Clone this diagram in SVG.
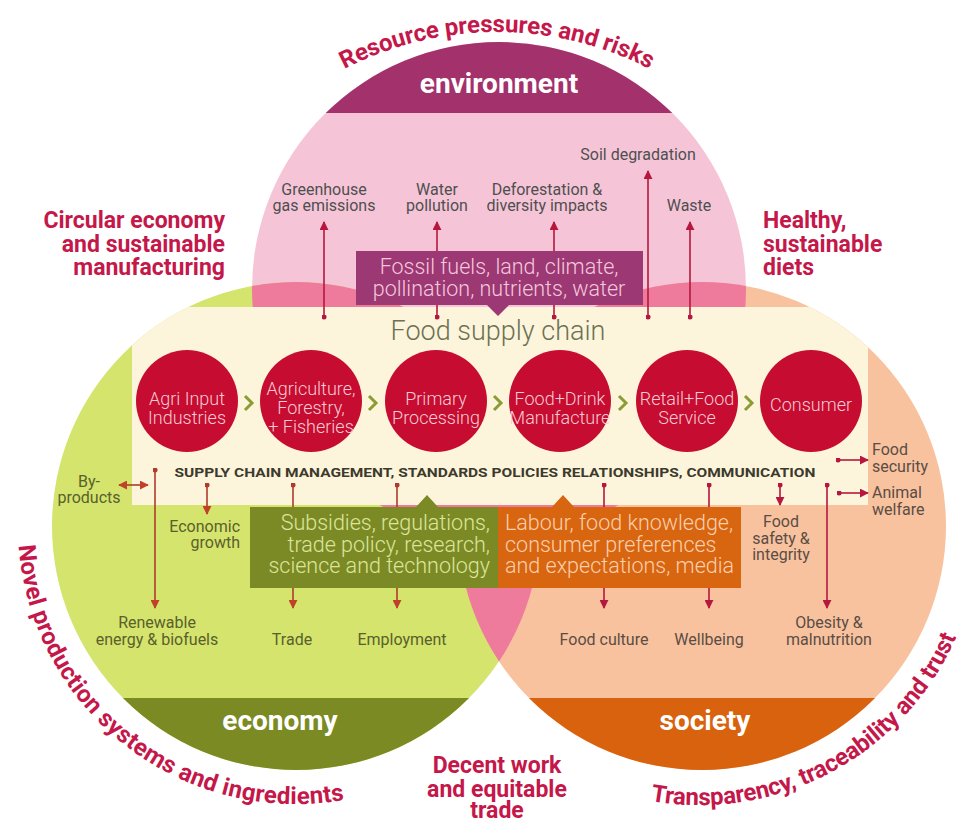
<svg xmlns="http://www.w3.org/2000/svg" width="964" height="827" viewBox="0 0 964 827">
<defs>
<style>
text{font-family:Roboto,"Liberation Sans",sans-serif;}
.hd{font-size:23px;font-weight:700;fill:#c4174a;}
.cv{font-size:24px;font-weight:700;fill:#c4174a;}
.band{font-size:28px;font-weight:700;fill:#ffffff;text-anchor:middle;}
.ct{font-size:18px;font-weight:300;fill:#f8cbd4;text-anchor:middle;}
.lbl{font-size:16px;text-anchor:middle;}
.le{fill:#4f4f4f;}
.lg{fill:#59602c;}
.ls{fill:#5b4d44;}
.bx{font-size:21.5px;font-weight:300;}
.ar{fill:none;stroke:#b5173e;stroke-width:1.6;}
.ag{fill:none;stroke:#b03a2c;stroke-width:1.6;}
.chev{fill:none;stroke:#8c9c34;stroke-width:3;}
</style>
<clipPath id="cEnv"><circle cx="499" cy="289" r="247"/></clipPath>
<clipPath id="cEco"><circle cx="296" cy="526" r="244"/></clipPath>
<clipPath id="cSoc"><circle cx="702" cy="526" r="244"/></clipPath>
<clipPath id="cAll"><circle cx="499" cy="289" r="247"/><circle cx="296" cy="526" r="244"/><circle cx="702" cy="526" r="244"/></clipPath>
<marker id="ahR" viewBox="0 0 10 10" refX="9" refY="5" markerWidth="9" markerHeight="9" markerUnits="userSpaceOnUse" orient="auto-start-reverse"><path d="M0,0 L10,5 L0,10 z" fill="#b5173e"/></marker>
<marker id="ahG" viewBox="0 0 10 10" refX="9" refY="5" markerWidth="9" markerHeight="9" markerUnits="userSpaceOnUse" orient="auto-start-reverse"><path d="M0,0 L10,5 L0,10 z" fill="#c0412a"/></marker>
<marker id="dotR" viewBox="0 0 10 10" refX="5" refY="5" markerWidth="5" markerHeight="5" markerUnits="userSpaceOnUse"><circle cx="5" cy="5" r="5" fill="#b5173e"/></marker>
<marker id="dotG" viewBox="0 0 10 10" refX="5" refY="5" markerWidth="5" markerHeight="5" markerUnits="userSpaceOnUse"><circle cx="5" cy="5" r="5" fill="#b03a2c"/></marker>
<path id="arcTop" d="M164,365 A333,333 0 0 1 830,365"/>
<path id="arcEco" d="M22.2,477.7 A278,278 0 0 0 509,704.7"/>
<path id="arcSoc" d="M606.2,789.1 A280,280 0 0 0 963,430.2"/>
</defs>

<g id="venn">
<circle cx="499" cy="289" r="247" fill="#f5c5d7"/>
<circle cx="296" cy="526" r="244" fill="#d5e46c"/>
<circle cx="702" cy="526" r="244" fill="#f8c29f"/>
<circle cx="296" cy="526" r="244" fill="#ee7b9c" clip-path="url(#cEnv)"/>
<circle cx="702" cy="526" r="244" fill="#ee7b9c" clip-path="url(#cEnv)"/>
<circle cx="702" cy="526" r="244" fill="#ee7b9c" clip-path="url(#cEco)"/>
<g clip-path="url(#cEnv)"><rect x="240" y="0" width="520" height="113" fill="#a3316c"/></g>
<g clip-path="url(#cEco)"><rect x="40" y="698" width="480" height="90" fill="#7b8a23"/></g>
<g clip-path="url(#cSoc)"><rect x="480" y="698" width="480" height="90" fill="#d8620e"/></g>
<g clip-path="url(#cAll)"><rect x="132" y="307" width="736" height="198" fill="#fcf5dc"/></g>
</g>

<g id="titles">
<text class="cv"><textPath href="#arcTop" startOffset="50%" text-anchor="middle" textLength="317" lengthAdjust="spacing">Resource pressures and risks</textPath></text>
<text class="cv"><textPath href="#arcEco" startOffset="68" textLength="466" lengthAdjust="spacing">Novel production systems and ingredients</textPath></text>
<text class="cv"><textPath href="#arcSoc" startOffset="46" textLength="374" lengthAdjust="spacing">Transparency, traceability and trust</textPath></text>
<text class="hd" text-anchor="end"><tspan x="225" y="228">Circular economy</tspan><tspan x="225" y="252">and sustainable</tspan><tspan x="225" y="275">manufacturing</tspan></text>
<text class="hd"><tspan x="763" y="228">Healthy,</tspan><tspan x="763" y="252">sustainable</tspan><tspan x="763" y="275">diets</tspan></text>
<text class="hd" text-anchor="middle"><tspan x="497" y="773">Decent work</tspan><tspan x="497" y="797">and equitable</tspan><tspan x="497" y="818">trade</tspan></text>
<text class="band" x="499" y="93">environment</text>
<text class="band" x="280" y="730">economy</text>
<text class="band" x="705" y="730">society</text>
</g>

<g id="connectors">
<line class="ar" x1="324" y1="317" x2="324" y2="222" marker-start="url(#dotR)" marker-end="url(#ahR)"/>
<line class="ar" x1="437" y1="317" x2="437" y2="222" marker-start="url(#dotR)" marker-end="url(#ahR)"/>
<line class="ar" x1="554" y1="317" x2="554" y2="222" marker-start="url(#dotR)" marker-end="url(#ahR)"/>
<line class="ar" x1="648" y1="317" x2="648" y2="171" marker-start="url(#dotR)" marker-end="url(#ahR)"/>
<line class="ar" x1="690" y1="317" x2="690" y2="222" marker-start="url(#dotR)" marker-end="url(#ahR)"/>
<line class="ag" x1="119" y1="485" x2="148" y2="485" marker-start="url(#ahG)" marker-end="url(#ahG)"/>
<line class="ag" x1="155" y1="470" x2="155" y2="608" marker-start="url(#dotG)" marker-end="url(#ahG)"/>
<line class="ag" x1="207" y1="485" x2="207" y2="514" marker-start="url(#dotG)" marker-end="url(#ahG)"/>
<line class="ag" x1="293" y1="485" x2="293" y2="608" marker-start="url(#dotG)" marker-end="url(#ahG)"/>
<line class="ag" x1="397" y1="485" x2="397" y2="608" marker-start="url(#dotG)" marker-end="url(#ahG)"/>
<line class="ar" x1="604" y1="485" x2="604" y2="608" marker-start="url(#dotR)" marker-end="url(#ahR)"/>
<line class="ar" x1="709" y1="485" x2="709" y2="608" marker-start="url(#dotR)" marker-end="url(#ahR)"/>
<line class="ar" x1="780" y1="485" x2="780" y2="505" marker-start="url(#dotR)" marker-end="url(#ahR)"/>
<line class="ar" x1="827" y1="485" x2="827" y2="608" marker-start="url(#dotR)" marker-end="url(#ahR)"/>
<line class="ar" x1="838" y1="460" x2="868" y2="460" marker-start="url(#dotR)" marker-end="url(#ahR)"/>
<line class="ar" x1="839" y1="493" x2="868" y2="493" marker-start="url(#dotR)" marker-end="url(#ahR)"/>
</g>

<g id="env-labels" class="lbl le">
<text x="324" y="195">Greenhouse</text><text x="324" y="211">gas emissions</text>
<text x="437" y="195">Water</text><text x="437" y="211">pollution</text>
<text x="547" y="195">Deforestation &amp;</text><text x="547" y="211">diversity impacts</text>
<text x="638" y="160">Soil degradation</text>
<text x="689" y="211">Waste</text>
</g>

<g id="resources-box">
<path d="M356,251 H643 V305 H509 L498,316 L487,305 H356 Z" fill="#9c3874"/>
<text class="bx" font-size="23.5" fill="#f4c8dc" text-anchor="middle"><tspan x="499" y="274">Fossil fuels, land, climate,</tspan><tspan x="499" y="296">pollination, nutrients, water</tspan></text>
</g>

<g id="supply-chain">
<text x="498" y="340" font-size="27" font-weight="300" fill="#6d7152" text-anchor="middle">Food supply chain</text>
<text x="495" y="477" font-size="13" font-weight="700" fill="#3c3a2c" text-anchor="middle" textLength="641" lengthAdjust="spacingAndGlyphs">SUPPLY CHAIN MANAGEMENT, STANDARDS POLICIES RELATIONSHIPS, COMMUNICATION</text>
</g>

<g id="n-agri-input"><circle cx="187" cy="401" r="51" fill="#c60c30"/><text class="ct"><tspan x="187" y="405">Agri Input</tspan><tspan x="187" y="424">Industries</tspan></text></g>
<g id="n-agriculture"><circle cx="311" cy="401" r="51" fill="#c60c30"/><text class="ct"><tspan x="311" y="395">Agriculture,</tspan><tspan x="311" y="414">Forestry,</tspan><tspan x="311" y="433">+ Fisheries</tspan></text></g>
<g id="n-primary"><circle cx="436" cy="401" r="51" fill="#c60c30"/><text class="ct"><tspan x="436" y="405">Primary</tspan><tspan x="436" y="424">Processing</tspan></text></g>
<g id="n-manufacture"><circle cx="560" cy="401" r="51" fill="#c60c30"/><text class="ct"><tspan x="560" y="405">Food+Drink</tspan><tspan x="560" y="424">Manufacture</tspan></text></g>
<g id="n-retail"><circle cx="687" cy="401" r="51" fill="#c60c30"/><text class="ct"><tspan x="687" y="405">Retail+Food</tspan><tspan x="687" y="424">Service</tspan></text></g>
<g id="n-consumer"><circle cx="811" cy="401" r="51" fill="#c60c30"/><text class="ct" x="811" y="411">Consumer</text></g>

<g id="chevrons">
<polyline class="chev" points="245,396 252,403 245,410"/>
<polyline class="chev" points="369,396 376,403 369,410"/>
<polyline class="chev" points="494,396 501,403 494,410"/>
<polyline class="chev" points="619,396 626,403 619,410"/>
<polyline class="chev" points="745,396 752,403 745,410"/>
</g>

<g id="policy-box">
<path d="M250,507 H416 L427,495 L438,507 H498 V588 H250 Z" fill="#7c8a26"/>
<text class="bx" fill="#dbe69b" text-anchor="end"><tspan x="490" y="530">Subsidies, regulations,</tspan><tspan x="490" y="552">trade policy, research,</tspan><tspan x="490" y="573">science and technology</tspan></text>
</g>

<g id="social-box">
<path d="M498,507 H552 L563,495 L574,507 H741 V588 H498 Z" fill="#d8650f"/>
<text class="bx" fill="#fbcfae"><tspan x="505" y="530">Labour, food knowledge,</tspan><tspan x="505" y="552">consumer preferences</tspan><tspan x="505" y="573">and expectations, media</tspan></text>
</g>

<g id="eco-labels" class="lbl lg">
<text x="89" y="487">By-</text><text x="89" y="503">products</text>
<text x="240" y="532" text-anchor="end">Economic</text><text x="240" y="548" text-anchor="end">growth</text>
<text x="157" y="628">Renewable</text><text x="157" y="645">energy &amp; biofuels</text>
<text x="292" y="645">Trade</text>
<text x="402" y="645">Employment</text>
</g>

<g id="soc-labels" class="lbl ls">
<text x="604" y="645">Food culture</text>
<text x="709" y="645">Wellbeing</text>
<text x="781" y="527">Food</text><text x="781" y="544">safety &amp;</text><text x="781" y="560">integrity</text>
<text x="829" y="628">Obesity &amp;</text><text x="829" y="645">malnutrition</text>
<text x="872" y="455" text-anchor="start">Food</text><text x="872" y="472" text-anchor="start">security</text>
<text x="872" y="498" text-anchor="start">Animal</text><text x="872" y="515" text-anchor="start">welfare</text>
</g>
</svg>
